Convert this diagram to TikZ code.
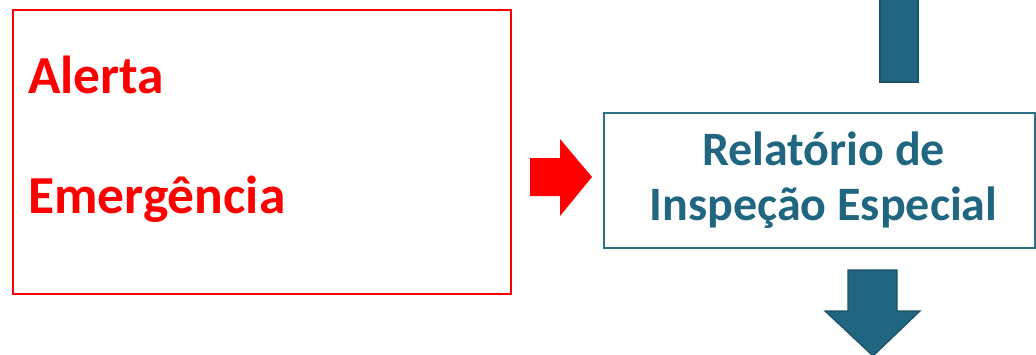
\documentclass[tikz,border=0pt]{standalone}
\usepackage{fontspec}
\setmainfont{Carlito}
\definecolor{teal1}{HTML}{216680}
\definecolor{teal2}{HTML}{1A5266}
\definecolor{tealline}{HTML}{2E6F87}
\tikzset{
  redtxt/.style={text=red,font=\fontsize{53.5}{60}\selectfont\bfseries,anchor=base west,inner sep=0},
  bluetxt/.style={text=teal1,font=\fontsize{48}{55}\selectfont\bfseries,anchor=base,inner sep=0},
  bigarrow/.style={fill=teal1,draw=teal2,line width=1.2pt,line join=miter}
}
\begin{document}
\begin{tikzpicture}[x=1pt,y=-1pt]
\useasboundingbox (0,0) rectangle (1036,354);
% red box
\node[draw=red,line width=2pt,minimum width=498pt,minimum height=284pt,anchor=north west,inner sep=0] (rbox) at (12,9) {};
\node[redtxt] (alerta) at (28,93) {Alerta};
\node[redtxt] (emerg) at (28,213) {Emergência};
% red arrow
\fill[red] (530,158) -- (560,158) -- (560,139) -- (592,177) -- (560,216) -- (560,196) -- (530,196) -- cycle;
% blue box
\node[draw=tealline,line width=1.5pt,minimum width=431pt,minimum height=135pt,anchor=north west,inner sep=0] (bbox) at (603,112) {};
\node[bluetxt] (btext1) at (823.5,165) {Relatório de};
\node[bluetxt] (btext2) at (823.5,220) {Inspeção Especial};
% top bar
\draw[bigarrow] (880,-2) rectangle (918,82);
% down arrow
\draw[bigarrow] (848,270) -- (897,270) -- (897,311) -- (920,311) -- (873,356) -- (825,311) -- (848,311) -- cycle;
\end{tikzpicture}
\end{document}
